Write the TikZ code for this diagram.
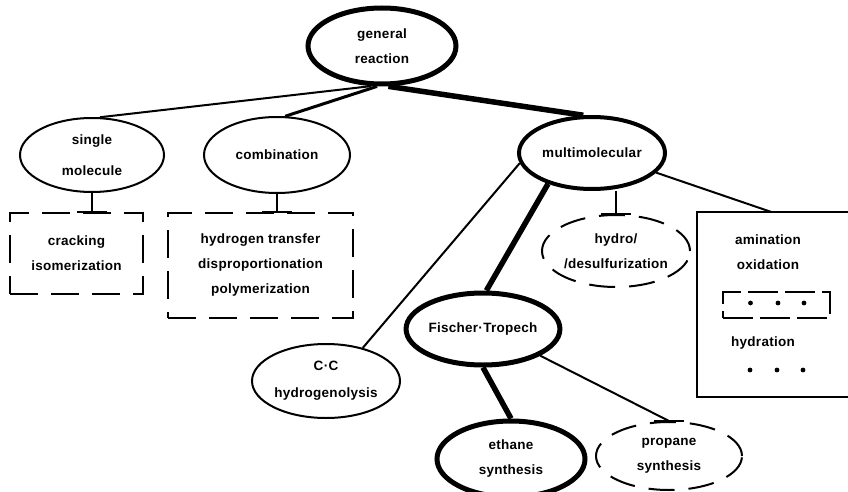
\documentclass[tikz,border=0pt]{standalone}
\usepackage{fontspec}
\setmainfont{Liberation Sans}[LetterSpace=2]
\usetikzlibrary{shapes.geometric,calc}
\begin{document}
\begin{tikzpicture}[x=1pt,y=-1pt,
  lbl/.style={font=\bfseries\fontsize{13.5}{25}\selectfont, align=center},
  oval/.style={lbl, ellipse, draw, line width=2pt, minimum width=148pt,
    minimum height=74pt, inner sep=0pt},
  boldoval/.style={oval, line width=5pt},
  dashoval/.style={oval, dash pattern=on 26pt off 14pt},
  dashbox/.style={lbl, draw, line width=2pt, dash pattern=on 28pt off 13pt,
    inner sep=0pt},
  link/.style={line width=2pt},
  midlink/.style={line width=3pt},
  heavylink/.style={line width=5.5pt},
  tbar/.style={line width=2.5pt}
]
\useasboundingbox (0,0) rectangle (848,492);

% reaction classes
\node[boldoval, minimum height=76pt] (gen) at (382,46) {general\\reaction};
\node[oval, minimum width=144pt, font=\bfseries\fontsize{13.5}{31}\selectfont]
  (single) at (92,155) {single\\molecule};
\node[oval, minimum width=146pt, minimum height=76pt] (comb) at (277,155) {combination};
\node[boldoval, line width=4pt, minimum width=146pt, minimum height=72pt]
  (multi) at (592,153) {multimolecular};

% examples of the first two classes
\node[dashbox, minimum width=133pt, minimum height=81pt] (crack) at (76.5,253.5)
  {cracking\\isomerization};
\node[dashbox, minimum width=185pt, minimum height=105pt] (combbox) at (260.5,265.5)
  {hydrogen transfer\\disproportionation\\polymerization};

% multimolecular reactions
\node[dashoval, minimum height=72pt] (hydro) at (616,251) {hydro/\\/desulfurization};
\node[oval, font=\bfseries\fontsize{13.5}{27}\selectfont] (cc) at (326,381)
  {C·C\\hydrogenolysis};
\node[boldoval, minimum width=147pt, minimum height=72pt] (ft) at (483,329)
  {Fischer·Tropech};
\node[boldoval, minimum height=76pt] (eth) at (511,459) {ethane\\synthesis};
\node[dashoval, minimum width=146pt, minimum height=68pt] (prop) at (669,456)
  {propane\\synthesis};

% open box of further reactions
\node[minimum width=151pt, minimum height=185pt, inner sep=0pt] (misc) at (772.5,304.5) {};
\draw[line width=2pt] (misc.north east) -- (misc.north west) -- (misc.south west)
  -- (misc.south east);
\node[lbl] (amin) at (768,240) {amination};
\node[lbl] (oxid) at (768,265) {oxidation};
\node[draw, line width=2pt, dash pattern=on 30pt off 7pt, minimum width=107pt,
  minimum height=26pt, inner sep=0pt] (etcbox) at (776.5,305) {};
\foreach \dx in {-26,1.5,27.5}
  \fill ($(etcbox.center)+(\dx,-2)$) circle (2.4pt);
\node[lbl] (hydr) at (763,343) {hydration};
\coordinate (tail) at (776,370);
\foreach \dx in {-26,1,27}
  \fill ($(tail)+(\dx,0)$) circle (2.4pt);

% connectors
\draw[link] (gen.-105) -- (single.78);
\draw[midlink] (gen.-97) -- (comb.78);
\draw[heavylink] (gen.-81) -- (multi.103);

\draw[link] (single.south) -- (single.south |- crack.north);
\draw[tbar] ($(single.south |- crack.north)+(-15,0)$) -- ++(30,0);
\draw[link] (comb.south) -- (comb.south |- combbox.north);
\draw[tbar] ($(comb.south |- combbox.north)+(-15,0)$) -- ++(30,0);

\draw[link] (hydro.north |- multi.south) -- (hydro.north);
\draw[tbar] ($(hydro.north)+(-15,0)$) -- ++(30,0);
\draw[link] (multi.-17) -- ($(misc.north west)+(74,0)$);
\draw[link] (multi.-172) -- (cc.42);
\draw[heavylink] (multi.-145) -- (ft.85);

\draw[heavylink] (ft.south) -- (eth.north);
\draw[link] (ft.-25) -- (prop.north);
\draw[tbar] ($(prop.north)+(-15,0)$) -- ++(30,0);
\end{tikzpicture}
\end{document}
